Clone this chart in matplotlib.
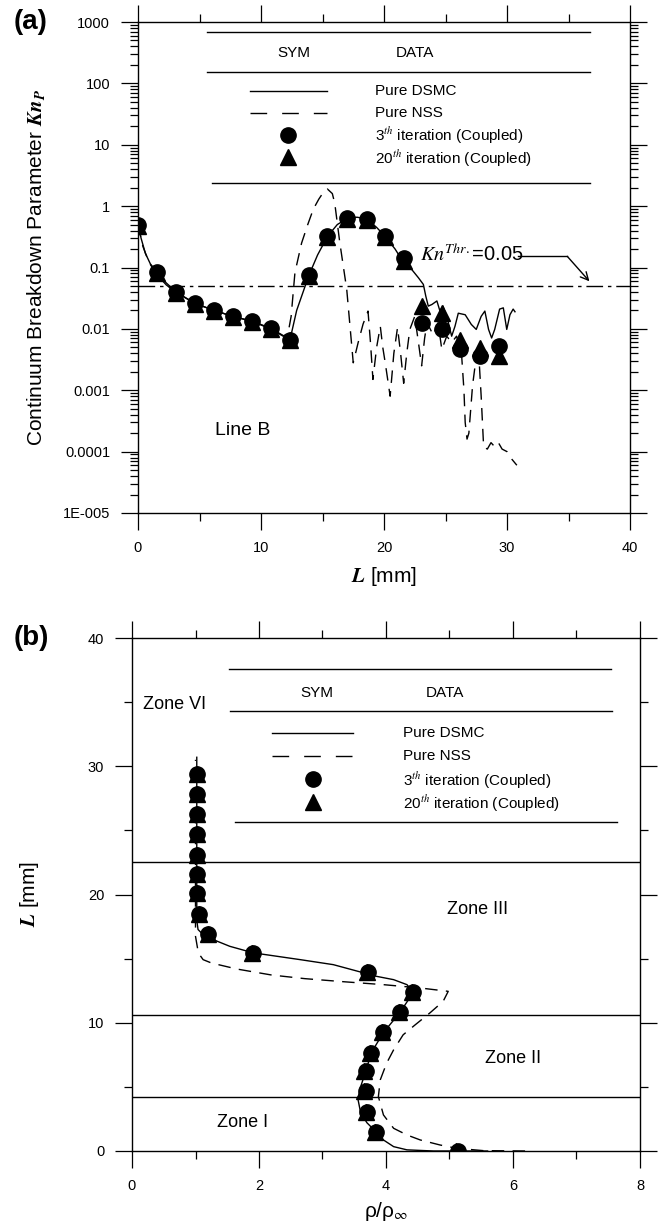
import matplotlib
matplotlib.use('Agg')
import matplotlib.pyplot as plt
from matplotlib.ticker import FixedLocator, FixedFormatter, LogLocator, NullFormatter, MultipleLocator
import numpy as np

plt.rcParams['font.family'] = ['Liberation Sans', 'DejaVu Sans']
plt.rcParams['mathtext.fontset'] = 'stix'

# ---------------- Panel (a) data ----------------
coupled_L = [0.0, 1.57, 3.1, 4.63, 6.18, 7.7, 9.27, 10.8, 12.36, 13.9, 15.4, 17.0, 18.6, 20.1,
             21.6, 23.1, 24.7, 26.2, 27.8, 29.35]
kn_iter3 = [0.49, 0.083, 0.040, 0.026, 0.020, 0.016, 0.0134, 0.0102, 0.0067, 0.075, 0.32, 0.63,
            0.62, 0.32, 0.145, 0.0126, 0.010, 0.0047, 0.0036, 0.0052]
kn_iter20 = [0.47, 0.080, 0.039, 0.025, 0.0195, 0.0155, 0.013, 0.0099, 0.0065, 0.072, 0.31, 0.61,
             0.60, 0.31, 0.13, 0.0235, 0.018, 0.0067, 0.0049, 0.0036]

dsmc_L = [0.0, 0.25, 0.6, 1.0, 1.57, 2.3, 3.1, 4.63, 6.18, 7.7, 9.27, 10.8, 11.8, 12.36, 12.9, 13.9,
          14.6, 15.4, 16.2, 17.0, 17.8, 18.6, 19.4, 20.1, 20.9, 21.6, 22.25, 22.8, 23.2, 23.4, 23.6,
          23.9, 24.3, 24.55, 24.8, 25.2, 25.5, 25.77, 26.04, 26.6, 27.1, 27.5, 27.9, 28.2, 28.5,
          28.75, 29.0, 29.4, 29.7, 29.98, 30.24, 30.5, 30.65]
dsmc_kn = [0.5, 0.3, 0.17, 0.115, 0.083, 0.056, 0.040, 0.026, 0.020, 0.016, 0.0134, 0.0102, 0.0078,
           0.0067, 0.02, 0.075, 0.16, 0.32, 0.5, 0.63, 0.66, 0.62, 0.45, 0.32, 0.2, 0.12, 0.093,
           0.068, 0.053, 0.034, 0.0235, 0.025, 0.0285, 0.0195, 0.0235, 0.0134, 0.0076, 0.011,
           0.018, 0.017, 0.0118, 0.0098, 0.016, 0.0195, 0.0098, 0.0071, 0.0098, 0.021, 0.022,
           0.0098, 0.017, 0.021, 0.019]

nss_L = [0.0, 0.4, 0.9, 1.57, 2.3, 3.1, 4.63, 6.18, 7.7, 9.27, 10.8, 11.8, 12.2, 12.45, 12.76, 13.3,
         13.8, 14.25, 14.7, 15.0, 15.4, 15.8, 16.0, 16.4, 16.97, 17.5, 17.9, 18.3, 18.7, 18.9, 19.1,
         19.4, 19.7, 19.9, 20.1, 20.5, 20.8, 21.1, 21.35, 21.6, 21.85, 22.1, 22.5, 22.8, 23.06,
         23.3, 23.5, 24.0, 24.4, 24.7, 25.1, 25.5, 25.9, 26.3, 26.5, 26.6, 26.75, 26.9, 27.2, 27.5,
         27.7, 27.9, 28.1, 28.4, 28.7, 29.0, 29.3, 29.6, 30.0, 30.4, 30.8]
nss_kn = [0.5, 0.22, 0.12, 0.075, 0.052, 0.039, 0.026, 0.020, 0.016, 0.0132, 0.0100, 0.0076, 0.0085,
          0.016, 0.083, 0.25, 0.5, 0.89, 1.3, 1.6, 1.9, 1.6, 1.1, 0.26, 0.044, 0.0028, 0.006, 0.012,
          0.0195, 0.006, 0.0015, 0.005, 0.011, 0.005, 0.0028, 0.0008, 0.004, 0.0105, 0.004, 0.0013,
          0.004, 0.0098, 0.016, 0.006, 0.0025, 0.007, 0.0127, 0.0079, 0.0126, 0.0046, 0.0076,
          0.006, 0.0076, 0.004, 0.001, 0.0003, 0.00016, 0.0002, 0.0012, 0.0035, 0.004, 0.0008,
          0.00012, 0.00011, 0.00014, 0.00012, 0.00014, 0.00011, 0.0001, 0.000075, 0.00006]

kn_threshold = 0.05
kn_ticks = [1e3, 1e2, 1e1, 1, 0.1, 0.01, 0.001, 0.0001, 1e-5]
kn_ticklabels = ['1000', '100', '10', '1', '0.1', '0.01', '0.001', '0.0001', '1E-005']

# ---------------- Panel (b) data ----------------
coupled_Lb = [0.0, 1.51, 3.07, 4.64, 6.2, 7.68, 9.24, 10.8, 12.37, 13.93, 15.45, 16.95, 18.5, 20.1,
              21.6, 23.1, 24.7, 26.25, 27.8, 29.4]
rho_iter3 = [5.13, 3.84, 3.70, 3.68, 3.68, 3.77, 3.96, 4.22, 4.43, 3.72, 1.91, 1.20, 1.055, 1.02,
             1.02, 1.02, 1.02, 1.02, 1.02, 1.02]
rho_iter20 = [5.11, 3.82, 3.68, 3.66, 3.66, 3.75, 3.94, 4.20, 4.41, 3.70, 1.89, 1.19, 1.05, 1.02,
              1.02, 1.02, 1.02, 1.02, 1.02, 1.02]

dsmc_rho = [5.6, 5.13, 4.75, 4.33, 4.12, 3.96, 3.84, 3.7, 3.6, 3.56, 3.6, 3.68, 3.77, 3.96, 4.22,
            4.43, 4.33, 4.12, 3.85, 3.17, 2.65, 1.91, 1.54, 1.28, 1.12, 1.04, 1.02, 1.02]
dsmc_Lb = [0.0, 0.0, 0.0, 0.09, 0.34, 0.86, 1.51, 2.2, 3.0, 4.0, 5.0, 6.2, 7.68, 9.24, 10.8, 12.37,
           12.97, 13.36, 13.62, 14.53, 14.92, 15.45, 15.96, 16.48, 16.87, 17.27, 18.0, 30.7]

nss_rho = [6.19, 5.53, 5.11, 4.85, 4.54, 4.33, 4.12, 3.96, 3.88, 3.91, 4.01, 4.12, 4.27, 4.46, 4.69,
           4.90, 4.98, 4.54, 3.96, 3.33, 2.72, 2.2, 1.65, 1.25, 1.12, 1.045, 1.0, 1.0, 1.0]
nss_Lb = [0.0, 0.03, 0.21, 0.47, 0.86, 1.25, 1.77, 2.81, 4.24, 5.55, 6.85, 7.89, 9.06, 9.84, 10.76,
          11.67, 12.45, 12.71, 12.97, 13.2, 13.44, 13.72, 14.19, 14.66, 14.92, 15.44, 16.74, 18.6,
          30.5]

zone_bounds = [22.5, 10.6, 4.2]
zone_names = ['Zone VI', 'Zone III', 'Zone II', 'Zone I']

legend_labels = ['Pure DSMC', 'Pure NSS', r'3$^{\mathit{th}}$ iteration (Coupled)',
                 r'20$^{\mathit{th}}$ iteration (Coupled)']

W, H = 661, 1226
fig = plt.figure(figsize=(W / 100, H / 100), dpi=100)

ax1 = fig.add_axes([138 / W, 1 - 513 / H, 492 / W, 491 / H])
ax2 = fig.add_axes([132 / W, 1 - 1151 / H, 508 / W, 513 / H])

DASH = (0, (9, 6))
MS = 11

def style_axes(ax):
    for s in ax.spines.values():
        s.set_linewidth(1.0)
    ax.tick_params(which='both', direction='out', top=True, right=True,
                   labeltop=False, labelright=False, width=0.9, labelsize=10.5, pad=8)
    ax.tick_params(which='major', length=12)
    ax.tick_params(which='minor', length=6)

def legend_table(ax, top_y, top_x, mid_y, mid_x, sym_x, data_x, head_y,
                 row_y, samp_x0, samp_x1, mark_x, text_x, bot_y, bot_x):
    kw = dict(transform=ax.transAxes, color='black', lw=1.0, clip_on=False)
    ax.plot(top_x, [top_y, top_y], **kw)
    ax.plot(mid_x, [mid_y, mid_y], **kw)
    ax.plot(bot_x, [bot_y, bot_y], **kw)
    ax.text(sym_x, head_y, 'SYM', transform=ax.transAxes, ha='center', va='center', fontsize=11)
    ax.text(data_x, head_y, 'DATA', transform=ax.transAxes, ha='center', va='center', fontsize=11)
    ax.plot([samp_x0, samp_x1], [row_y[0], row_y[0]], **kw)
    ax.plot([samp_x0, samp_x1], [row_y[1], row_y[1]], linestyle=(0, (12, 10.8)),
            transform=ax.transAxes, color='black', lw=1.0, clip_on=False)
    ax.plot([mark_x], [row_y[2]], 'o', color='black', ms=MS, transform=ax.transAxes, clip_on=False)
    ax.plot([mark_x], [row_y[3]], '^', color='black', ms=MS, transform=ax.transAxes, clip_on=False)
    for yy, lab in zip(row_y, legend_labels):
        ax.text(text_x, yy, lab, transform=ax.transAxes, ha='left', va='center', fontsize=11)

# ---------------- Panel (a) ----------------
ax1.set_yscale('log')
ax1.plot(dsmc_L, dsmc_kn, color='black', lw=1.0)
ax1.plot(nss_L, nss_kn, color='black', lw=1.0, linestyle=DASH)
ax1.axhline(kn_threshold, color='black', lw=1.0, linestyle=(0, (12, 3.5, 2.5, 3.5)))
ax1.plot(coupled_L, kn_iter20, '^', color='black', ms=MS, zorder=3)
ax1.plot(coupled_L, kn_iter3, 'o', color='black', ms=MS, zorder=4)

ax1.set_xlim(0, 40)
ax1.set_ylim(1e-5, 1e3)
ax1.yaxis.set_major_locator(FixedLocator(kn_ticks))
ax1.yaxis.set_major_formatter(FixedFormatter(kn_ticklabels))
ax1.yaxis.set_minor_locator(LogLocator(base=10, subs=np.arange(2, 10), numticks=20))
ax1.yaxis.set_minor_formatter(NullFormatter())
ax1.xaxis.set_major_locator(MultipleLocator(10))
ax1.xaxis.set_minor_locator(MultipleLocator(5))
style_axes(ax1)

ax1.set_xlabel(r'$\mathbfit{L}$ [mm]', fontsize=15)
ax1.xaxis.set_label_coords(0.5, -0.105)
ax1.set_ylabel(r'Continuum Breakdown Parameter $\mathbfit{Kn_P}$', fontsize=15)
ax1.yaxis.set_label_coords(-0.185, 0.5)

ax1.text(22.9, 0.164, r'$Kn^{Thr.}$=0.05', fontsize=14.5, ha='left', va='center')
ax1.plot([30.9, 34.9], [0.152, 0.152], color='black', lw=1.0)
ax1.annotate('', xy=(36.7, 0.0596), xytext=(34.9, 0.152),
             arrowprops=dict(arrowstyle='->', lw=1.0, color='black', shrinkA=0, shrinkB=0,
                             mutation_scale=14))
ax1.text(6.3, 0.00022, 'Line B', fontsize=14, ha='left', va='center')

legend_table(ax1, top_y=0.980, top_x=[0.140, 0.919], mid_y=0.898, mid_x=[0.140, 0.919],
             sym_x=0.316, data_x=0.563, head_y=0.937,
             row_y=[0.8595, 0.8147, 0.770, 0.725], samp_x0=0.228, samp_x1=0.384,
             mark_x=0.305, text_x=0.482, bot_y=0.672, bot_x=[0.150, 0.919])

# ---------------- Panel (b) ----------------
ax2.plot(dsmc_rho, dsmc_Lb, color='black', lw=1.0)
ax2.plot(nss_rho, nss_Lb, color='black', lw=1.0, linestyle=DASH)
for yb in zone_bounds:
    ax2.axhline(yb, color='black', lw=1.0)
ax2.plot(rho_iter20, coupled_Lb, '^', color='black', ms=MS, zorder=3)
ax2.plot(rho_iter3, coupled_Lb, 'o', color='black', ms=MS, zorder=4)

ax2.set_xlim(0, 8)
ax2.set_ylim(0, 40)
ax2.xaxis.set_major_locator(MultipleLocator(2))
ax2.xaxis.set_minor_locator(MultipleLocator(1))
ax2.yaxis.set_major_locator(MultipleLocator(10))
ax2.yaxis.set_minor_locator(MultipleLocator(5))
style_axes(ax2)

ax2.set_xlabel(r'ρ/ρ$_{\infty}$', fontsize=15)
ax2.xaxis.set_label_coords(0.5, -0.095)
ax2.set_ylabel(r'$\mathbfit{L}$ [mm]', fontsize=15)
ax2.yaxis.set_label_coords(-0.18, 0.5)

zone_pos = [(0.17, 34.8), (4.96, 18.8), (5.56, 7.25), (1.34, 2.2)]
for (zx, zy), name in zip(zone_pos, zone_names):
    ax2.text(zx, zy, name, fontsize=13, ha='left', va='center')

legend_table(ax2, top_y=0.9396, top_x=[0.191, 0.943], mid_y=0.8577, mid_x=[0.193, 0.945],
             sym_x=0.3635, data_x=0.616, head_y=0.8928,
             row_y=[0.8148, 0.770, 0.725, 0.680], samp_x0=0.2756, samp_x1=0.435,
             mark_x=0.356, text_x=0.5335, bot_y=0.6413, bot_x=[0.203, 0.955])

fig.text(14 / W, 1 - 22 / H, '(a)', fontsize=20, fontweight='bold', ha='left', va='center')
fig.text(14 / W, 1 - 638 / H, '(b)', fontsize=20, fontweight='bold', ha='left', va='center')

fig.savefig('out.png', dpi=100)
